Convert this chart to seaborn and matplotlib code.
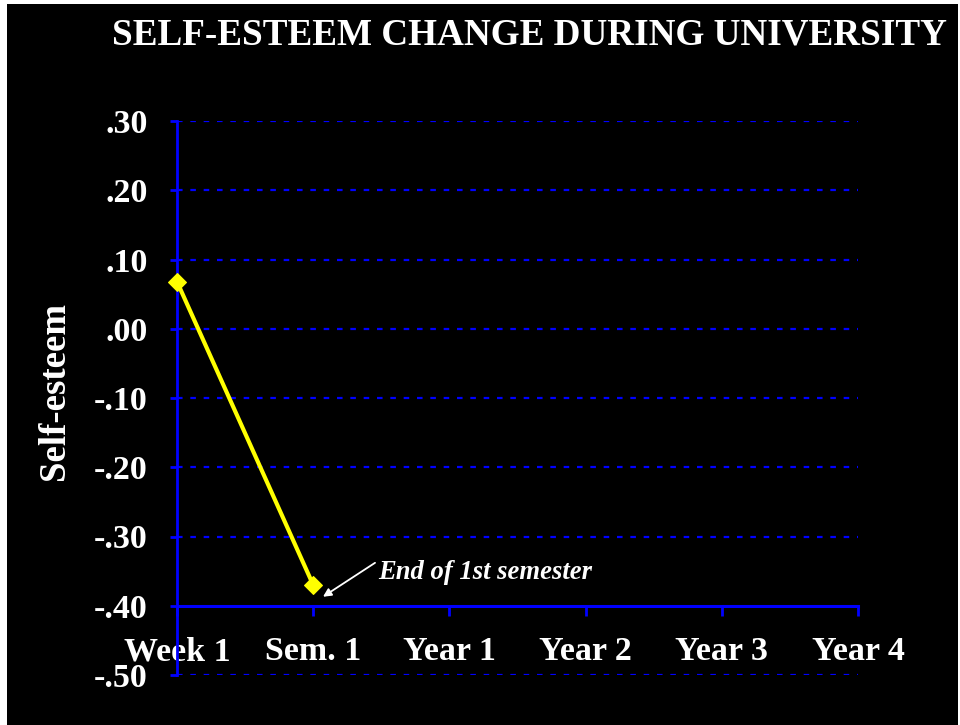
import matplotlib
matplotlib.use("Agg")
import matplotlib.pyplot as plt
import matplotlib.patches as mpatches
import seaborn as sns
import pandas as pd

# ---- data ----
categories = ["Week 1", "Sem. 1", "Year 1", "Year 2", "Year 3", "Year 4"]
measured_points = ["Week 1", "Sem. 1"]
self_esteem = [0.068, -0.37]
y_ticks = [0.30, 0.20, 0.10, 0.00, -0.10, -0.20, -0.30, -0.40, -0.50]
y_tick_labels = [".30", ".20", ".10", ".00", "-.10", "-.20", "-.30", "-.40", "-.50"]
title = "SELF-ESTEEM CHANGE DURING UNIVERSITY"
y_label = "Self-esteem"
annotation = "End of 1st semester"

sns.set_style("dark")
plt.rcParams["font.family"] = ["Liberation Serif", "DejaVu Serif"]

BLUE = "#0000FF"
YELLOW = "#FFFF00"

fig = plt.figure(figsize=(9.6, 7.25), dpi=100, facecolor="white")
# black slide background with thin white margins
fig.patches.append(mpatches.Rectangle((7 / 960, 0), (958 - 7) / 960, 1 - 4 / 725,
                                      transform=fig.transFigure, facecolor="black",
                                      edgecolor="none", zorder=-10))

ax = fig.add_axes([177 / 960, 1 - 675 / 725, (858 - 177) / 960, (675 - 121) / 725])
ax.set_facecolor("none")

df = pd.DataFrame({"x": [categories.index(c) for c in measured_points], "y": self_esteem})
sns.lineplot(data=df, x="x", y="y", ax=ax, color=YELLOW, linewidth=3,
             marker="D", markersize=9, markeredgecolor=YELLOW, clip_on=False, zorder=5)

ax.set_xlim(0, len(categories) - 1)
ax.set_ylim(-0.5, 0.3)

# grid (dashed blue), skipping the x-axis level
for yv in y_ticks:
    if abs(yv - (-0.40)) > 1e-9:
        ax.axhline(yv, color=BLUE, lw=1.6, ls=(0, (2.5, 3.5)), zorder=1)

for s in ["top", "right"]:
    ax.spines[s].set_visible(False)
ax.spines["left"].set_color(BLUE)
ax.spines["left"].set_linewidth(2.0)
ax.spines["bottom"].set_color(BLUE)
ax.spines["bottom"].set_linewidth(2.2)
ax.spines["bottom"].set_position(("data", -0.40))

ax.set_xticks(range(len(categories)))
ax.set_xticklabels(categories)
ax.set_yticks(y_ticks)
ax.set_yticklabels(y_tick_labels)

ax.tick_params(axis="x", direction="out", length=7, width=2, color=BLUE, pad=15,
               labelsize=24.5, labelcolor="white", bottom=True)
ax.tick_params(axis="y", direction="out", length=5, width=2, color=BLUE, pad=16,
               labelsize=24.5, labelcolor="white", left=True)
for lab in ax.get_xticklabels() + ax.get_yticklabels():
    lab.set_fontweight("bold")

ax.set_xlabel("")
ax.set_ylabel("")
ax.grid(False)

fig.text(55 / 960, 1 - 391 / 725, y_label, rotation=90, ha="center", va="center",
         color="white", fontsize=26.5, fontweight="bold")
fig.text(529 / 960, 1 - 35 / 725, title, ha="center", va="center",
         color="white", fontsize=26.7, fontweight="bold")

ax.annotate("", xy=(1.072, -0.387), xytext=(1.454, -0.338),
            arrowprops=dict(arrowstyle="-|>", color="white", lw=1.3,
                            mutation_scale=12, shrinkA=0, shrinkB=0), annotation_clip=False)
ax.text(1.476, -0.361, annotation, ha="left", va="baseline", color="white",
        fontsize=19.2, fontweight="bold", fontstyle="italic")

fig.savefig("out.png", dpi=100, facecolor=fig.get_facecolor())
